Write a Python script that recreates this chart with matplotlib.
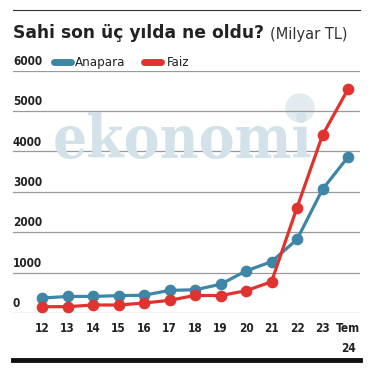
import matplotlib.pyplot as plt
from matplotlib.patches import Circle

years = ["12", "13", "14", "15", "16", "17", "18", "19", "20", "21", "22", "23", "Tem\n24"]
anapara = [370, 410, 410, 430, 440, 560, 575, 710, 1040, 1270, 1820, 3060, 3860]
faiz = [156, 156, 198, 198, 247, 313, 436, 430, 551, 773, 2610, 4400, 5540]
yticks = [0, 1000, 2000, 3000, 4000, 5000, 6000]

blue = "#3f86a6"
red = "#e0332f"
cond = dict(family="DejaVu Sans", stretch="condensed")

fig = plt.figure(figsize=(3.76, 3.72), dpi=100)
W, H = 376, 372

# frame lines and title in figure coords
fig.add_artist(plt.Line2D([13 / W, 360 / W], [1 - 9.5 / H, 1 - 9.5 / H], color="#333333", lw=0.8))
fig.add_artist(plt.Line2D([13 / W, 360 / W], [1 - 360 / H, 1 - 360 / H], color="#111111", lw=3.5))
fig.text(13 / W, 1 - 33 / H, "Sahi son üç yılda ne oldu?", fontsize=12.3, fontweight="bold",
         color="#222222", va="center", ha="left")
fig.text(270 / W, 1 - 34 / H, "(Milyar TL)", fontsize=10.5, color="#333333", va="center", ha="left")

# watermark
fig.text(183 / W, 1 - 141 / H, "ekonomi", fontsize=43, family="DejaVu Serif", stretch="condensed",
         fontweight="bold", color="#d3e1e8", ha="center", va="center", zorder=0)
fig.add_artist(Circle((300 / W, 1 - 108 / H), 14 / W, transform=fig.transFigure,
                      color="#e2ebf0", zorder=0))

ax = fig.add_axes([13 / W, 1 - 313 / H, 347 / W, 242.5 / H])
ax.set_xlim(-1.14, 12.47)
ax.set_ylim(0, 6000)
ax.patch.set_alpha(0)
for s in ax.spines.values():
    s.set_visible(False)
ax.set_xticks([])
ax.set_yticks([])

for v in yticks:
    ax.axhline(v, color="#999999", lw=0.9, zorder=1)
    ax.text(-1.14, v + 70, str(v), fontsize=8.5, fontweight="bold", color="#222222",
            ha="left", va="bottom", **cond)

x = list(range(len(years)))
ax.plot(x, anapara, color=blue, lw=2.3, marker="o", ms=7.4, zorder=3, clip_on=False)
ax.plot(x, faiz, color=red, lw=2.3, marker="o", ms=7.4, zorder=4, clip_on=False)

for i, lab in enumerate(years):
    ax.text(i, -230, lab, fontsize=8.5, fontweight="bold", color="#222222",
            ha="center", va="top", linespacing=1.7, **cond)

# legend
ly = 6210
ax.plot([0.45, 1.12], [ly, ly], color=blue, lw=5, solid_capstyle="round", clip_on=False)
ax.text(1.27, ly, "Anapara", fontsize=9.5, color="#222222", va="center", ha="left", **cond)
ax.plot([3.98, 4.68], [ly, ly], color=red, lw=5, solid_capstyle="round", clip_on=False)
ax.text(4.88, ly, "Faiz", fontsize=9.5, color="#222222", va="center", ha="left", **cond)

fig.savefig("out.png", dpi=100)
